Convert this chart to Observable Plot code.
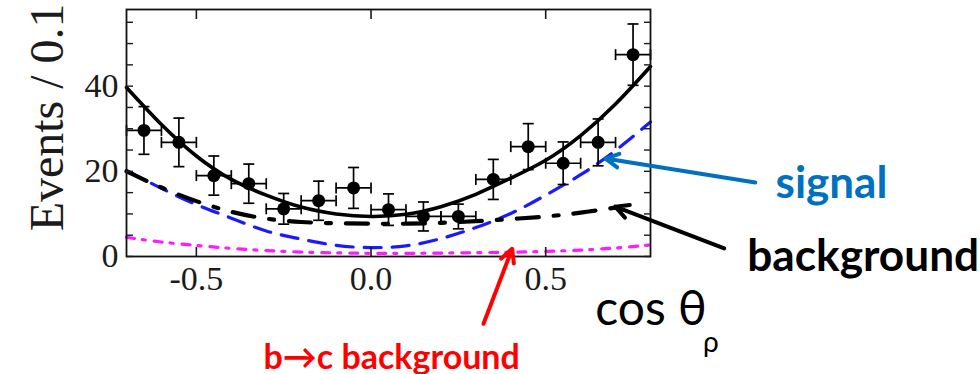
<!DOCTYPE html>
<html><head><meta charset="utf-8">
<script src="https://cdn.jsdelivr.net/npm/d3@7"></script>
<script src="https://cdn.jsdelivr.net/npm/@observablehq/plot@0.6"></script>
<style>html,body{margin:0;padding:0;background:#fff;overflow:hidden}</style>
</head><body><div id="chart"></div>
<script>
// ---- data ----
const binCenters = [-0.65,-0.55,-0.45,-0.35,-0.25,-0.15,-0.05,0.05,0.15,0.25,0.35,0.45,0.55,0.65,0.75];
const events     = [29.6, 26.8, 19.0, 17.1, 11.2, 13.1, 16.1, 11.0, 9.4, 9.4, 18.1, 25.8, 21.9, 26.8, 47.4];
const eventErr   = [5.6, 5.7, 4.6, 4.6, 3.6, 4.6, 4.8, 3.7, 3.4, 2.9, 4.7, 5.4, 5.0, 5.5, 7.2];
const binWidth = 0.1;

const curveX     = [-0.7,-0.6,-0.5,-0.4,-0.3,-0.2,-0.1,0.0,0.1,0.2,0.3,0.4,0.5,0.6,0.7,0.8];
const totalFit   = [39.7, 31.0, 23.6, 18.1, 14.4, 11.6, 10.0, 9.4, 9.9, 11.7, 14.6, 18.4, 22.6, 28.4, 35.8, 44.6];
const signalFit  = [20.2, 16.0, 12.2, 9.0, 6.0, 4.1, 2.6, 2.1, 2.5, 4.2, 6.8, 10.1, 14.4, 19.2, 24.9, 31.6];
const bcFit      = [4.5, 3.4, 2.6, 1.9, 1.4, 1.05, 0.85, 0.75, 0.75, 0.8, 0.9, 1.0, 1.2, 1.5, 2.0, 2.7];
const bgX        = [-0.7,-0.6,-0.5,-0.4,-0.3,-0.2,-0.1,0.0,0.1,0.2,0.3,0.4,0.5,0.6,0.7,0.74];
const bgFit      = [20.0, 16.2, 13.0, 10.5, 8.9, 8.1, 7.8, 7.7, 7.7, 7.9, 8.3, 8.8, 9.4, 10.3, 11.5, 12.1];

const xTicks = [-0.5, 0.0, 0.5];
const yTicks = [0, 20, 40];
const yMinorTicks = [0,5,10,15,20,25,30,35,40,45,50,55];

const yLabel = "Events / 0.1";
const xLabelMain = "cos θ";
const xLabelSub = "ρ";
const noteSignal = "signal";
const noteBackground = "background";
const noteBC = "b→c background";

// ---- tables built from the arrays ----
const points = binCenters.map((x, i) => ({x, y: events[i], lo: events[i] - eventErr[i], hi: events[i] + eventErr[i]}));
const series = (xs, ys) => xs.map((x, i) => ({x, y: ys[i]}));

const hCap = {draw(ctx, size) { const w = Math.sqrt(size / Math.PI); ctx.moveTo(-w, 0); ctx.lineTo(w, 0); }};
const vCap = {draw(ctx, size) { const w = Math.sqrt(size / Math.PI); ctx.moveTo(0, -w); ctx.lineTo(0, w); }};

const arrows = [
  {x1: 1.100, y1: 17.4, x2: 0.671, y2: 23.0, c: "#0070C0"},
  {x1: 1.011, y1: 1.9, x2: 0.699, y2: 11.7, c: "#000000"},
  {x1: 0.322, y1: -15.8, x2: 0.404, y2: 1.8, c: "#ff0000"}
];

const chart = Plot.plot({
  width: 980, height: 374,
  marginTop: 9, marginBottom: 118, marginLeft: 126, marginRight: 330,
  x: {domain: [-0.7, 0.8], label: null},
  y: {domain: [0, 58], label: null},
  style: {fontFamily: "Liberation Serif", fontSize: "34px", color: "#1b1b1b", background: "#fff", overflow: "visible"},
  marks: [
    // curves
    Plot.line(series(curveX, bcFit), {x: "x", y: "y", curve: "natural", stroke: "#ff1aff", strokeWidth: 3.2, strokeDasharray: "8,8,3,9"}),
    Plot.line(series(curveX, signalFit), {x: "x", y: "y", curve: "natural", stroke: "#1a1aff", strokeWidth: 3.2, strokeDasharray: "17,11"}),
    Plot.line(series(bgX, bgFit), {x: "x", y: "y", curve: "natural", stroke: "#000", strokeWidth: 4.2, strokeDasharray: "22,15,5,15"}),
    Plot.line(series(curveX, totalFit), {x: "x", y: "y", curve: "natural", stroke: "#000", strokeWidth: 3.6}),
    // data points with error bars
    Plot.ruleX(points, {x: "x", y1: "lo", y2: "hi", stroke: "#000", strokeWidth: 1.7}),
    Plot.ruleY(points, {y: "y", x1: d => d.x - binWidth / 2, x2: d => d.x + binWidth / 2, stroke: "#000", strokeWidth: 1.7}),
    Plot.dot(points, {x: "x", y: "lo", symbol: hCap, r: 5.5, stroke: "#000", strokeWidth: 1.7}),
    Plot.dot(points, {x: "x", y: "hi", symbol: hCap, r: 5.5, stroke: "#000", strokeWidth: 1.7}),
    Plot.dot(points, {x: d => d.x - binWidth / 2, y: "y", symbol: vCap, r: 5.5, stroke: "#000", strokeWidth: 1.7}),
    Plot.dot(points, {x: d => d.x + binWidth / 2, y: "y", symbol: vCap, r: 5.5, stroke: "#000", strokeWidth: 1.7}),
    Plot.dot(points, {x: "x", y: "y", r: 6.5, fill: "#000"}),
    // frame and ticks
    Plot.frame({stroke: "#111", strokeWidth: 1.8}),
    Plot.axisX(xTicks, {anchor: "bottom", tickSize: -9, tickFormat: () => "", strokeWidth: 1.6, label: null}),
    Plot.axisX(xTicks, {anchor: "top", tickSize: -9, tickFormat: () => "", strokeWidth: 1.6, label: null}),
    Plot.axisX(xTicks, {anchor: "bottom", tickSize: 0, tickPadding: 9, tickFormat: d => d.toFixed(1), fontSize: 34, label: null}),
    Plot.axisY(yMinorTicks, {anchor: "left", tickSize: -7, tickFormat: () => "", strokeWidth: 1.4, label: null}),
    Plot.axisY(yMinorTicks, {anchor: "right", tickSize: -7, tickFormat: () => "", strokeWidth: 1.4, label: null}),
    Plot.axisY(yTicks, {anchor: "left", tickSize: 0, tickPadding: 8, tickFormat: d => String(d), fontSize: 34, label: null}),
    // y label
    Plot.text([yLabel], {x: -0.883, y: 5.9, rotate: -90, textAnchor: "start", lineAnchor: "bottom", fontSize: 48, fontFamily: "Liberation Serif", fill: "#1b1b1b"}),
    // annotation arrows (headLength is relative to the stroke width)
    Plot.arrow(arrows, {x1: "x1", y1: "y1", x2: "x2", y2: "y2", stroke: "c", strokeWidth: 4, headLength: 5.5, headAngle: 55}),
    // annotation texts
    Plot.text([noteSignal], {x: 1.158, y: 13.85, textAnchor: "start", lineAnchor: "bottom", fontSize: 44, fontFamily: "Lato", fontWeight: "bold", fill: "#0070C0"}),
    Plot.text([noteBackground], {x: 1.077, y: -3.29, textAnchor: "start", lineAnchor: "bottom", fontSize: 44.2, fontFamily: "Lato", fontWeight: "bold", fill: "#000"}),
    Plot.text([noteBC], {x: -0.308, y: -26.3, textAnchor: "start", lineAnchor: "bottom", fontSize: 34, fontFamily: "Lato", fontWeight: "bold", fill: "#ff0000"}),
    Plot.text([xLabelMain], {x: 0.642, y: -16.2, textAnchor: "start", lineAnchor: "bottom", fontSize: 48, fontFamily: "Lato", fill: "#000"}),
    Plot.text([xLabelSub], {x: 0.95, y: -22.5, textAnchor: "start", lineAnchor: "bottom", fontSize: 28, fontFamily: "Lato", fill: "#000"})
  ]
});
document.getElementById("chart").appendChild(chart);
</script>
</body></html>
